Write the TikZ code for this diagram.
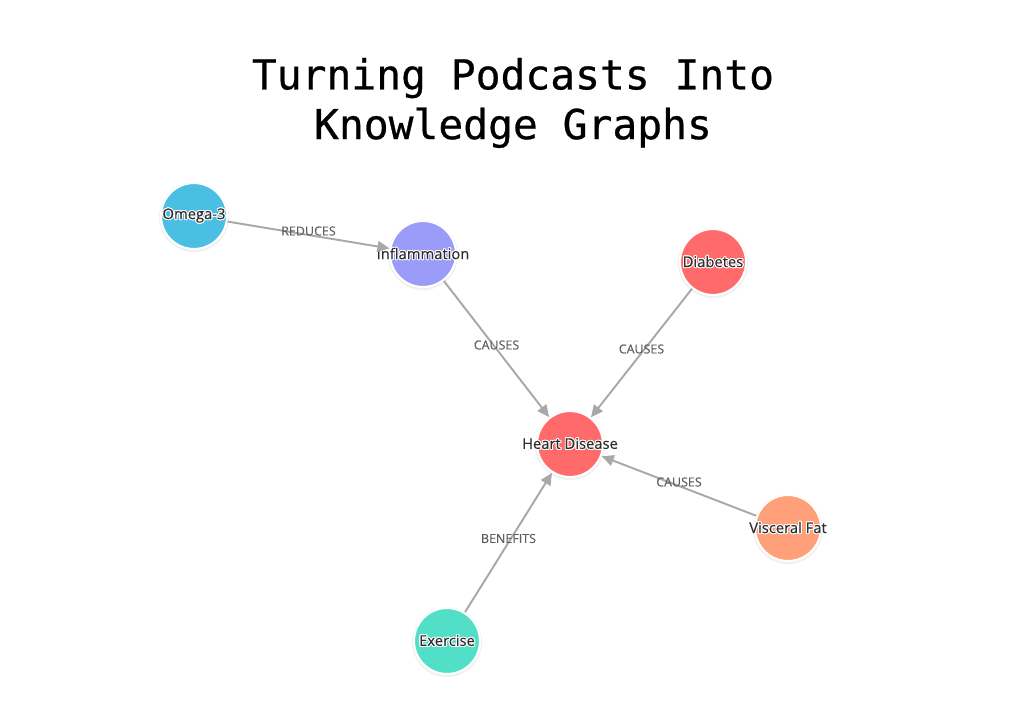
\documentclass[tikz,border=0pt]{standalone}
\usepackage{fontspec}
\setmainfont{Open Sans}
\setmonofont{DejaVu Sans Mono}[FakeBold=0.6]
\newfontfamily\nodefont{Open Sans}[FakeBold=0.35]
\newfontfamily\edgefont{Open Sans}[FakeBold=0.2]
\usepackage{contour}
\contourlength{0.55pt}
\usepackage{xcolor}
\usepackage{tikz}
\usetikzlibrary{positioning,arrows.meta,shadows}
\definecolor{omega}  {HTML}{4BBFE3}
\definecolor{inflam} {HTML}{9B9BFA}
\definecolor{redhot} {HTML}{FF6B6B}
\definecolor{salmon} {HTML}{FFA07A}
\definecolor{mint}   {HTML}{52DFC8}
\definecolor{edge}   {HTML}{A8A8A8}
\definecolor{ink}    {HTML}{2E2E2E}
\definecolor{muted}  {HTML}{5E5E5E}

\newcommand\tag[1]{\makebox[0pt]{\contour{white}{#1}}}

\begin{document}
\begin{tikzpicture}[
  concept/.style={circle,draw=white,line width=1.2pt,minimum size=13.2mm,
                  inner sep=0pt,outer sep=0.6pt,
                  drop shadow={opacity=0.12,shadow xshift=0pt,shadow yshift=-0.6pt,
                               shadow scale=1.06},
                  font=\nodefont\fontsize{8.4}{9}\selectfont,text=ink},
  link/.style={draw=edge,line width=1.1pt,-{Triangle[length=2.4mm,width=2.2mm]}},
  elbl/.style={font=\edgefont\fontsize{7.1}{8}\selectfont,text=muted,yshift=0.08cm},
  heading/.style={font=\ttfamily\fontsize{23.5}{28.3}\selectfont,align=center}]

\useasboundingbox (0,0) rectangle (20.52,14.14);

\node[heading] (title) at (10.26,12.08) {Turning Podcasts Into\\Knowledge Graphs};

% concepts
\node[concept,fill=omega]  (omega)    at (3.88,9.82)  {\tag{Omega-3}};
\node[concept,fill=inflam] (inflam)   at (8.46,9.06)  {\tag{Inflammation}};
\node[concept,fill=redhot] (diabetes) at (14.26,8.90) {\tag{Diabetes}};
\node[concept,fill=redhot] (heart)    at (11.40,5.26) {\tag{Heart Disease}};
\node[concept,fill=salmon] (visceral) at (15.76,3.58) {\tag{Visceral Fat}};
\node[concept,fill=mint]   (exercise) at (8.94,1.32)  {\tag{Exercise}};

% relations
\draw[link] (omega)    -- node[elbl] {REDUCES}  (inflam);
\draw[link] (inflam)   -- node[elbl] {CAUSES}   (heart);
\draw[link] (diabetes) -- node[elbl] {CAUSES}   (heart);
\draw[link] (visceral) -- node[elbl] {CAUSES}   (heart);
\draw[link] (exercise) -- node[elbl] {BENEFITS} (heart);
\end{tikzpicture}
\end{document}
